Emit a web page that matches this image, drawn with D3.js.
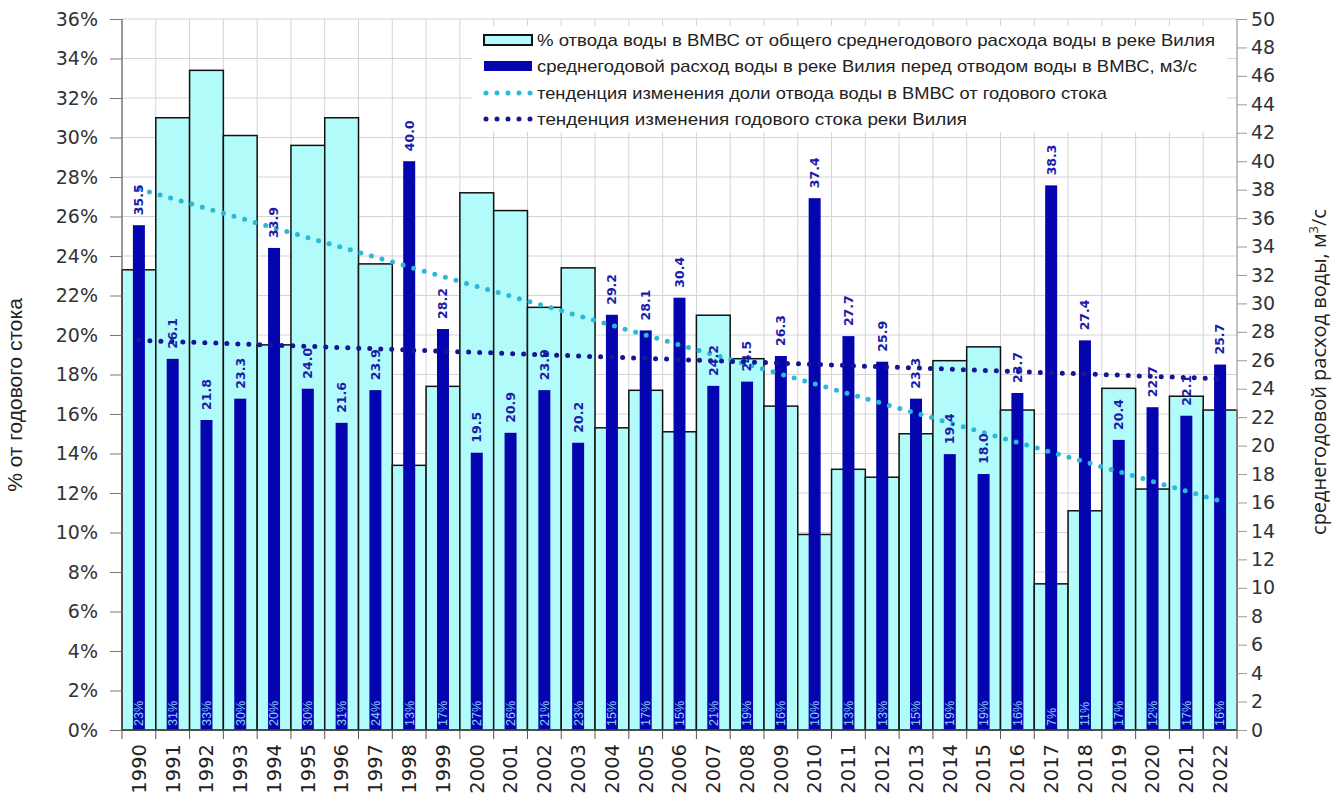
<!DOCTYPE html>
<html><head><meta charset="utf-8">
<script src="https://cdn.jsdelivr.net/npm/d3@7/dist/d3.min.js"></script>
<style>body{margin:0;background:#fff}svg{display:block}</style>
</head><body>
<svg id="c" width="1337" height="806"></svg>
<script>
const years = [1990,1991,1992,1993,1994,1995,1996,1997,1998,1999,2000,2001,2002,2003,2004,2005,2006,2007,2008,2009,2010,2011,2012,2013,2014,2015,2016,2017,2018,2019,2020,2021,2022];
const sharePct = [23.3,31.0,33.4,30.1,19.5,29.6,31.0,23.6,13.4,17.4,27.2,26.3,21.4,23.4,15.3,17.2,15.1,21.0,18.8,16.4,9.9,13.2,12.8,15.0,18.7,19.4,16.2,7.4,11.1,17.3,12.2,16.9,16.2];
const flow = [35.5,26.1,21.8,23.3,33.9,24.0,21.6,23.9,40.0,28.2,19.5,20.9,23.9,20.2,29.2,28.1,30.4,24.2,24.5,26.3,37.4,27.7,25.9,23.3,19.4,18.0,23.7,38.3,27.4,20.4,22.7,22.1,25.7];
const trendShareEnds = [27.4, 11.6];   // % at 1990 and 2022
const trendFlowEnds = [27.4, 24.7];    // m3/s at 1990 and 2022
const leftTicks = d3.range(0, 37, 2);
const rightTicks = d3.range(0, 51, 2);
const legendLabels = [
  "% отвода воды в ВМВС от общего среднегодового расхода воды в реке Вилия",
  "среднегодовой расход воды в реке Вилия перед отводом воды в ВМВС, м3/с",
  "тенденция изменения доли отвода воды в ВМВС от годового стока",
  "тенденция изменения годового стока реки Вилия"
];

const svg = d3.select("#c");
const L = 122, R = 1237, T = 19, B = 730;
const x = d3.scaleBand().domain(years).range([L, R]).padding(0);
const yL = d3.scaleLinear().domain([0, 36]).range([B, T]);
const yR = d3.scaleLinear().domain([0, 50]).range([B, T]);
const LIGHT = "#b2fbfb", DARK = "#0505b0", CYAN = "#2eb8d8", NAVY = "#151596";

// grid
const g = svg.append("g");
g.selectAll(".hg").data(leftTicks).join("line")
  .attr("x1", L).attr("x2", R).attr("y1", d => yL(d)).attr("y2", d => yL(d))
  .attr("stroke", "#d4d4d4").attr("stroke-width", 1);
g.selectAll(".vg").data(years.slice(1)).join("line")
  .attr("x1", d => x(d)).attr("x2", d => x(d)).attr("y1", T).attr("y2", B)
  .attr("stroke", "#d4d4d4").attr("stroke-width", 1);

// light bars
svg.append("g").selectAll("rect").data(years).join("rect")
  .attr("x", d => x(d)).attr("width", x.bandwidth())
  .attr("y", (d, i) => yL(sharePct[i])).attr("height", (d, i) => B - yL(sharePct[i]))
  .attr("fill", LIGHT).attr("stroke", "#111").attr("stroke-width", 1.5);

// dark bars
const bw = 12;
svg.append("g").selectAll("rect").data(years).join("rect")
  .attr("x", d => x(d) + x.bandwidth() / 2 - bw / 2).attr("width", bw)
  .attr("y", (d, i) => yR(flow[i])).attr("height", (d, i) => B - yR(flow[i]))
  .attr("fill", DARK);

// bottom % labels
svg.append("g").selectAll("text").data(years).join("text")
  .attr("transform", d => `translate(${x(d) + x.bandwidth() / 2},${B - 4}) rotate(-90)`)
  .attr("dy", "0.35em").attr("font-family", "Liberation Sans Narrow, Liberation Sans, sans-serif")
  .attr("font-size", 12.5).attr("fill", "#8ad4f5")
  .text((d, i) => Math.round(sharePct[i]) + "%");

// trend lines
const x0 = x(years[0]) + x.bandwidth() / 2, x1 = x(years[years.length - 1]) + x.bandwidth() / 2;
svg.append("line").attr("x1", x0).attr("x2", x1)
  .attr("y1", yL(trendShareEnds[0])).attr("y2", yL(trendShareEnds[1]))
  .attr("stroke", CYAN).attr("stroke-width", 5).attr("stroke-linecap", "round").attr("stroke-dasharray", "0 11");
svg.append("line").attr("x1", x0).attr("x2", x1)
  .attr("y1", yR(trendFlowEnds[0])).attr("y2", yR(trendFlowEnds[1]))
  .attr("stroke", NAVY).attr("stroke-width", 5).attr("stroke-linecap", "round").attr("stroke-dasharray", "0 11");

// dark bar value labels
svg.append("g").selectAll("text").data(years).join("text")
  .attr("transform", (d, i) => `translate(${x(d) + x.bandwidth() / 2},${yR(flow[i]) - 10}) rotate(-90)`)
  .attr("dy", "0.35em").attr("font-family", "DejaVu Sans, sans-serif").attr("font-weight", "bold")
  .attr("font-size", 12.5).attr("fill", "#1c1ca8")
  .text((d, i) => flow[i].toFixed(1));

// axes lines
svg.append("line").attr("x1", L).attr("x2", L).attr("y1", T).attr("y2", B).attr("stroke", "#555").attr("stroke-width", 1.2);
svg.append("line").attr("x1", R).attr("x2", R).attr("y1", T).attr("y2", B).attr("stroke", "#999").attr("stroke-width", 1.2);
svg.append("line").attr("x1", L).attr("x2", R).attr("y1", B).attr("y2", B).attr("stroke", "#555").attr("stroke-width", 1.2);

// left axis
const la = svg.append("g").attr("transform", `translate(${L},0)`)
  .call(d3.axisLeft(yL).tickValues(leftTicks).tickSize(12).tickPadding(12).tickFormat(d => d + "%"));
la.select(".domain").remove();
la.selectAll("line").attr("stroke", "#777");
la.selectAll("text").attr("font-family", "DejaVu Sans, sans-serif").attr("font-size", 19).attr("fill", "#333");

// right axis
const ra = svg.append("g").attr("transform", `translate(${R},0)`)
  .call(d3.axisRight(yR).tickValues(rightTicks).tickSize(10).tickPadding(4));
ra.select(".domain").remove();
ra.selectAll("line").attr("stroke", "#999");
ra.selectAll("text").attr("font-family", "DejaVu Sans, sans-serif").attr("font-size", 19).attr("fill", "#333");

// x axis
const xa = svg.append("g").attr("transform", `translate(0,${B})`)
  .call(d3.axisBottom(x).tickSize(0).tickPadding(0));
xa.select(".domain").remove();
xa.selectAll("text").attr("transform", "rotate(-90)").attr("text-anchor", "end")
  .attr("x", -14).attr("y", 0).attr("dy", "0.35em")
  .attr("font-family", "DejaVu Sans, sans-serif").attr("font-size", 19.5).attr("fill", "#222");
svg.append("g").selectAll("line").data(years.concat(["end"])).join("line")
  .attr("x1", d => d === "end" ? R : x(d)).attr("x2", d => d === "end" ? R : x(d))
  .attr("y1", B).attr("y2", B + 9).attr("stroke", "#555");

// axis titles
svg.append("text").attr("transform", `translate(22,${395}) rotate(-90)`).attr("text-anchor", "middle")
  .attr("font-family", "Liberation Sans Narrow, Liberation Sans, sans-serif").attr("font-size", 21).attr("fill", "#222")
  .text("% от годового стока");
const rt = svg.append("text").attr("transform", `translate(1326,${372}) rotate(-90)`).attr("text-anchor", "middle")
  .attr("font-family", "Open Sans, DejaVu Sans, sans-serif").attr("font-size", 20).attr("fill", "#222");
rt.append("tspan").text("среднегодовой расход воды, м");
rt.append("tspan").attr("dy", -8).attr("font-size", 13).text("3");
rt.append("tspan").attr("dy", 8).text("/с");

// legend
const lg = svg.append("g");
lg.append("rect").attr("x", 472).attr("y", 26).attr("width", 755).attr("height", 106).attr("fill", "#fff");
const rowsY = [40, 66, 93, 119];
lg.append("rect").attr("x", 484).attr("y", rowsY[0] - 5).attr("width", 48).attr("height", 10)
  .attr("fill", LIGHT).attr("stroke", "#111").attr("stroke-width", 2);
lg.append("rect").attr("x", 484).attr("y", rowsY[1] - 5).attr("width", 48).attr("height", 10).attr("fill", DARK);
lg.append("line").attr("x1", 486).attr("x2", 532).attr("y1", rowsY[2]).attr("y2", rowsY[2])
  .attr("stroke", CYAN).attr("stroke-width", 5).attr("stroke-linecap", "round").attr("stroke-dasharray", "0 11");
lg.append("line").attr("x1", 486).attr("x2", 532).attr("y1", rowsY[3]).attr("y2", rowsY[3])
  .attr("stroke", NAVY).attr("stroke-width", 5).attr("stroke-linecap", "round").attr("stroke-dasharray", "0 11");
const legW = [678, 660, 570, 430];
lg.selectAll(".lt").data(legendLabels).join("text")
  .attr("x", 537).attr("y", (d, i) => rowsY[i]).attr("dy", "0.35em")
  .attr("font-family", "Liberation Sans Narrow, Liberation Sans, sans-serif").attr("font-size", 17).attr("fill", "#222")
  .attr("textLength", (d, i) => legW[i]).attr("lengthAdjust", "spacingAndGlyphs")
  .text(d => d);
</script>
</body></html>
